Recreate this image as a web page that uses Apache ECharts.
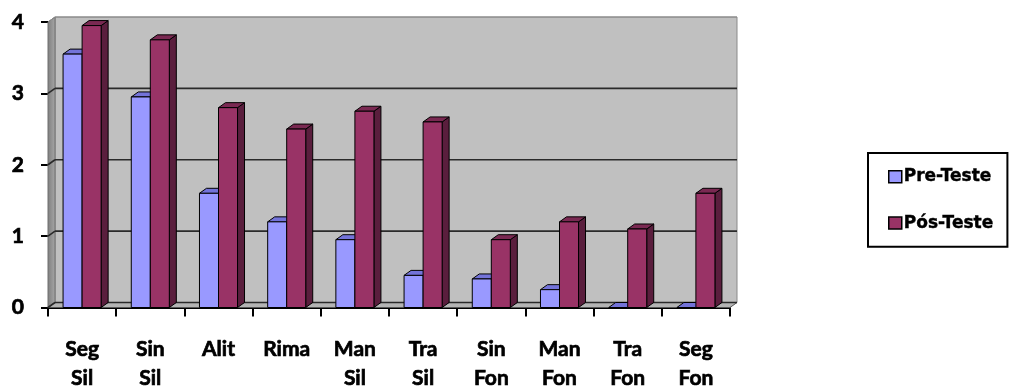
<!DOCTYPE html>
<html>
<head>
<meta charset="utf-8">
<script src="https://cdn.jsdelivr.net/npm/echarts@6/dist/echarts.min.js"></script>
<style>
  html, body { margin: 0; padding: 0; background: #fff; }
  #chart { width: 1014px; height: 388px; }
</style>
</head>
<body>
<div id="chart"></div>
<script>
// Categories (two-line labels) and scores per test phase
const categories = ['Seg\nSil', 'Sin\nSil', 'Alit', 'Rima', 'Man\nSil', 'Tra\nSil', 'Sin\nFon', 'Man\nFon', 'Tra\nFon', 'Seg\nFon'];
const seriesNames = ['Pre-Teste', 'Pós-Teste'];
const preTeste = [3.55, 2.95, 1.6, 1.2, 0.95, 0.45, 0.4, 0.25, 0, 0];
const posTeste = [3.95, 3.75, 2.8, 2.5, 2.75, 2.6, 0.95, 1.2, 1.1, 1.6];
const yTicks = [0, 1, 2, 3, 4];

// Pseudo-3D depth of the plot box (pixels to the right / up)
const DX = 7, DY = -5;
const BAR_RATIO = 0.279; // width of one bar relative to a category band

const faces = [
  { front: '#9999FF', top: '#7373D9', side: '#5C5CB0' },
  { front: '#993366', top: '#7A2952', side: '#5A1E3D' }
];

function barRenderer(idx) {
  const c = faces[idx];
  return function (params, api) {
    const cat = api.value(0);
    const val = api.value(1);
    const base = api.coord([cat, 0]);
    const top = api.coord([cat, val]);
    const w = api.size([1, 0])[0] * BAR_RATIO;
    const x0 = idx === 0 ? base[0] - w : base[0];
    const x1 = x0 + w;
    const yt = top[1], yb = base[1];
    const stroke = { stroke: '#000', lineWidth: 1 };
    const children = [
      { type: 'polygon', shape: { points: [[x1, yt], [x1 + DX, yt + DY], [x1 + DX, yb + DY], [x1, yb]] },
        style: Object.assign({ fill: c.side }, stroke) },
      { type: 'polygon', shape: { points: [[x0, yt], [x1, yt], [x1 + DX, yt + DY], [x0 + DX, yt + DY]] },
        style: Object.assign({ fill: c.top }, stroke) }
    ];
    if (yb - yt > 0.5) {
      children.push({ type: 'rect', shape: { x: x0, y: yt, width: w, height: yb - yt },
        style: Object.assign({ fill: c.front }, stroke) });
    }
    return { type: 'group', children: children };
  };
}

// Back wall, side wall, floor and gridlines on the back wall
function wallRenderer(params, api) {
  const cs = params.coordSys;
  const L = cs.x, R = cs.x + cs.width;
  const v = api.value(0);
  const y = api.coord([0, v])[1];
  const y0 = api.coord([0, yTicks[0]])[1];
  const yTop = api.coord([0, yTicks[yTicks.length - 1]])[1];
  const children = [];
  if (params.dataIndex === 0) {
    children.push(
      { type: 'polygon', shape: { points: [[L + DX, yTop + DY], [R + DX, yTop + DY], [R + DX, y0 + DY], [L + DX, y0 + DY]] },
        style: { fill: '#C0C0C0', stroke: '#8A8A8A', lineWidth: 1 } },
      { type: 'polygon', shape: { points: [[L, y0], [L, yTop], [L + DX, yTop + DY], [L + DX, y0 + DY]] },
        style: {
          fill: new echarts.graphic.LinearGradient(0, 0, 1, 0, [
            { offset: 0, color: '#7E7E7E' }, { offset: 1, color: '#A8A8A8' }
          ]),
          stroke: '#6E6E6E', lineWidth: 1
        } },
      { type: 'polygon', shape: { points: [[L, y0], [R, y0], [R + DX, y0 + DY], [L + DX, y0 + DY]] },
        style: { fill: '#B4B4B4', stroke: '#555', lineWidth: 1 } }
    );
  }
  const isTop = params.dataIndex === yTicks.length - 1;
  const lineStyle = { stroke: isTop ? '#8A8A8A' : '#2A2A2A', lineWidth: isTop ? 1 : 1.6 };
  children.push(
    { type: 'line', shape: { x1: L, y1: y, x2: L + DX, y2: y + DY }, style: lineStyle },
    { type: 'line', shape: { x1: L + DX, y1: y + DY, x2: R + DX, y2: y + DY }, style: lineStyle }
  );
  return { type: 'group', children: children };
}

const axisFont = {
  color: '#000', fontFamily: 'Lato', fontWeight: 'bold', fontSize: 21,
  textBorderColor: '#000', textBorderWidth: 0.7
};

const chart = echarts.init(document.getElementById('chart'), null, { renderer: 'canvas' });
chart.setOption({
  animation: false,
  backgroundColor: '#fff',
  grid: { left: 48, right: 284, top: 22, bottom: 80.5, containLabel: false, outerBoundsMode: 'none' },
  legend: {
    orient: 'vertical',
    left: 868, top: 153,
    padding: [15, 14, 15, 20],
    borderColor: '#000', borderWidth: 2,
    itemWidth: 13, itemHeight: 12, itemGap: 29,
    icon: 'rect',
    selectedMode: false,
    itemStyle: { borderColor: '#000', borderWidth: 1.5 },
    textStyle: {
      fontFamily: 'DejaVu Sans', fontWeight: 'bold', fontSize: 17, lineHeight: 16, color: '#000',
      textBorderColor: '#000', textBorderWidth: 0.4, padding: [0, 0, 0, -3]
    },
    data: seriesNames
  },
  xAxis: {
    type: 'category',
    data: categories,
    boundaryGap: true,
    axisLine: { lineStyle: { color: '#000', width: 2 } },
    axisTick: { show: true, length: 9, lineStyle: { color: '#000', width: 2 } },
    axisLabel: Object.assign({ interval: 0, margin: 27, lineHeight: 29 }, axisFont),
    splitLine: { show: false }
  },
  yAxis: {
    type: 'value',
    min: 0, max: 4, interval: 1,
    axisLine: { show: true, lineStyle: { color: '#333', width: 1 } },
    axisTick: { show: true, length: 7, lineStyle: { color: '#000', width: 2 } },
    axisLabel: Object.assign({ margin: 24 }, axisFont),
    splitLine: { show: false }
  },
  series: [
    {
      type: 'custom', name: 'wall', silent: true, z: 1,
      renderItem: wallRenderer,
      encode: { y: 0 },
      data: yTicks.map(function (t) { return [t]; })
    },
    {
      type: 'custom', name: seriesNames[0], z: 2,
      itemStyle: { color: faces[0].front },
      renderItem: barRenderer(0),
      encode: { x: 0, y: 1 },
      data: preTeste.map(function (v, i) { return [i, v]; })
    },
    {
      type: 'custom', name: seriesNames[1], z: 3,
      itemStyle: { color: faces[1].front },
      renderItem: barRenderer(1),
      encode: { x: 0, y: 1 },
      data: posTeste.map(function (v, i) { return [i, v]; })
    }
  ]
});
</script>
</body>
</html>
